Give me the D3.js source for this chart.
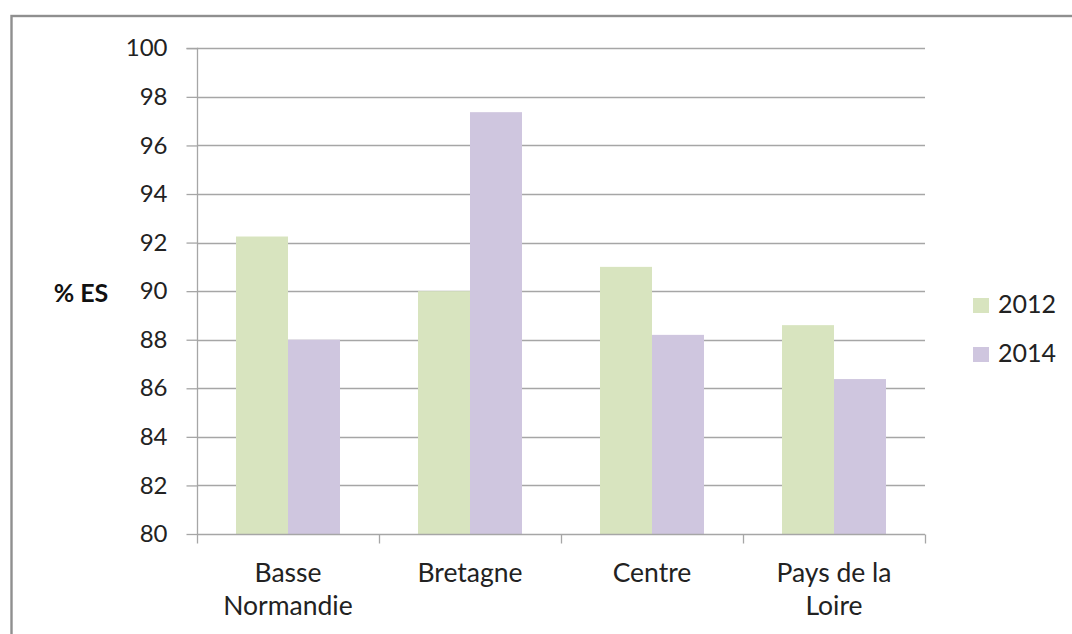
<!DOCTYPE html>
<html>
<head>
<meta charset="utf-8">
<script src="https://cdn.jsdelivr.net/npm/d3@7"></script>
<style>
html,body{margin:0;padding:0;background:#fff;overflow:hidden;}
svg{display:block;}
</style>
</head>
<body>
<svg id="chart" width="1072" height="634"></svg>
<script>
const categories = [["Basse","Normandie"],["Bretagne"],["Centre"],["Pays de la","Loire"]];
const catKeys = ["Basse Normandie","Bretagne","Centre","Pays de la Loire"];
const seriesNames = ["2012","2014"];
const values2012 = [92.25, 90.0, 91.0, 88.6];
const values2014 = [88.0, 97.37, 88.2, 86.38];
const yTicks = [80,82,84,86,88,90,92,94,96,98,100];
const colors = ["#d8e4bf","#cfc6df"];
const yLabel = "% ES";

const svg = d3.select("#chart");
const font = "Lato, 'Open Sans', sans-serif";
const fs = 24;

// outer frame
svg.append("rect").attr("x",11.5).attr("y",16).attr("width",1100).attr("height",650)
  .attr("fill","none").attr("stroke","#8f8f8f").attr("stroke-width",2.4);

const pLeft = 197, pRight = 925, pTop = 48.3, pBottom = 534;
const x = d3.scaleBand().domain(catKeys).range([pLeft,pRight]).paddingInner(0).paddingOuter(0);
const y = d3.scaleLinear().domain([80,100]).range([pBottom,pTop]);
const bw = x.bandwidth()/3.5;
const xs = d3.scaleBand().domain(seriesNames).range([0,2*bw]);

// gridlines
svg.append("g").selectAll("line").data(yTicks.filter(t=>t>80)).join("line")
  .attr("x1",pLeft).attr("x2",pRight)
  .attr("y1",d=>Math.round(y(d))+0.5).attr("y2",d=>Math.round(y(d))+0.5)
  .attr("stroke","#a6a6a6").attr("stroke-width",1.3);

// bars
const data = [];
catKeys.forEach((c,i)=>{
  data.push({c, s:"2012", v:values2012[i], col:colors[0]});
  data.push({c, s:"2014", v:values2014[i], col:colors[1]});
});
svg.append("g").selectAll("rect").data(data).join("rect")
  .attr("x",d=>x(d.c)+0.75*bw+xs(d.s))
  .attr("y",d=>y(d.v))
  .attr("width",bw)
  .attr("height",d=>y(80)-y(d.v))
  .attr("fill",d=>d.col);

// y axis
const yAxis = d3.axisLeft(y).tickValues(yTicks).tickSize(11).tickPadding(19).tickFormat(d3.format("d"));
const gy = svg.append("g").attr("transform",`translate(${pLeft+0.5},0)`).call(yAxis);
gy.select(".domain").attr("stroke","#a6a6a6").attr("stroke-width",1.3).attr("d",`M-11,${pTop}H0V${pBottom}`);
gy.selectAll(".tick line").attr("stroke","#a6a6a6").attr("stroke-width",1.3);
gy.selectAll(".tick text").attr("font-family",font).attr("font-size",fs).attr("fill","#222");

// x axis
const xAxis = d3.axisBottom(x).tickValues([]).tickSize(0);
const gx = svg.append("g").attr("transform",`translate(0,${Math.round(pBottom)+0.5})`).call(xAxis);
gx.select(".domain").attr("stroke","#a6a6a6").attr("stroke-width",1.3).attr("d",`M${pLeft},0H${pRight}`);
const bounds = catKeys.map(c=>x(c)).concat([pRight]);
gx.selectAll("line.tk").data(bounds).join("line").attr("class","tk")
  .attr("x1",d=>Math.round(d)+0.5).attr("x2",d=>Math.round(d)+0.5).attr("y1",0).attr("y2",9)
  .attr("stroke","#a6a6a6").attr("stroke-width",1.3);
const lbl = svg.append("g").selectAll("text").data(catKeys).join("text")
  .attr("x",d=>x(d)+x.bandwidth()/2).attr("y",582)
  .attr("text-anchor","middle").attr("font-family",font).attr("font-size",26.5).attr("fill","#222");
lbl.each(function(d,i){
  const t = d3.select(this);
  categories[i].forEach((line,j)=>{
    t.append("tspan").attr("x",x(d)+x.bandwidth()/2).attr("dy",j===0?0:33).text(line);
  });
});

// y label
svg.append("text").attr("x",81).attr("y",302).attr("text-anchor","middle")
  .attr("font-family",font).attr("font-weight","bold").attr("font-size",25).attr("fill","#111").text(yLabel);

// legend
const lg = svg.append("g").selectAll("g").data(seriesNames).join("g")
  .attr("transform",(d,i)=>`translate(973,${298+i*49})`);
lg.append("rect").attr("width",16).attr("height",15).attr("fill",(d,i)=>colors[i]);
lg.append("text").attr("x",25).attr("y",14.5).attr("font-family",font).attr("font-size",25).attr("fill","#222").text(d=>d);
</script>
</body>
</html>
